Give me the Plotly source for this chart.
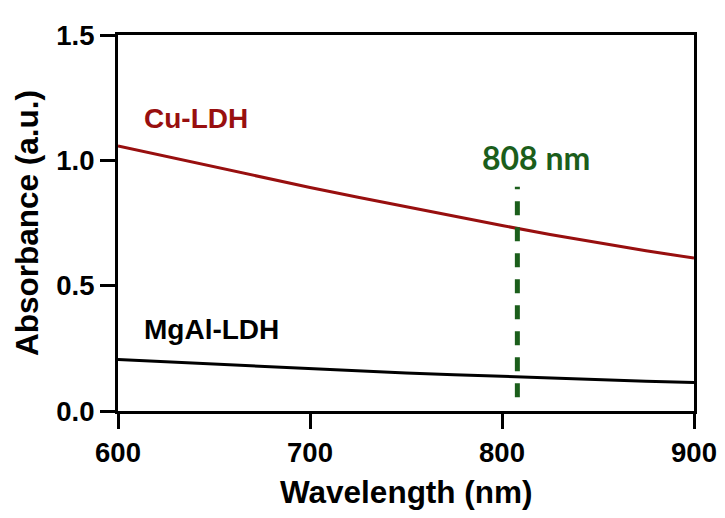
import plotly.graph_objects as go

# ---- data ----
wavelength = [600, 625, 650, 675, 700, 725, 750, 775, 800, 825, 850, 875, 900]
cu_ldh = [1.057, 1.015, 0.973, 0.932, 0.892, 0.853, 0.815, 0.777, 0.740, 0.704, 0.670, 0.639, 0.610]
mgal_ldh = [0.205, 0.196, 0.187, 0.178, 0.169, 0.160, 0.152, 0.145, 0.138, 0.131, 0.125, 0.119, 0.114]

laser_x = [808, 808]
laser_y = [0.055, 0.895]

x_ticks = [600, 700, 800, 900]
y_ticks = [0.0, 0.5, 1.0, 1.5]

RED = "#980f0f"
GREEN = "#1b5e1b"
FONT = "Liberation Sans, Arial, sans-serif"

fig = go.Figure()
fig.add_trace(go.Scatter(x=wavelength, y=cu_ldh, mode="lines",
                         line=dict(color=RED, width=3), showlegend=False))
fig.add_trace(go.Scatter(x=wavelength, y=mgal_ldh, mode="lines",
                         line=dict(color="#000000", width=3), showlegend=False))
fig.add_trace(go.Scatter(x=laser_x, y=laser_y, mode="lines",
                         line=dict(color=GREEN, width=5, dash="14px,12px"),
                         showlegend=False))

# page body has an 8px default margin, so the plot area is placed 8px up/left
fig.update_layout(
    width=725, height=518,
    margin=dict(l=110, r=39, t=21, b=115),
    paper_bgcolor="white", plot_bgcolor="white",
    font=dict(family=FONT, color="black"),
)

fig.update_xaxes(
    range=[600, 900], tickvals=x_ticks, ticktext=[str(v) for v in x_ticks],
    showgrid=False, zeroline=False, showline=True, linecolor="black", linewidth=3,
    mirror=True, ticks="outside", ticklen=15, tickwidth=3, tickcolor="black",
    tickfont=dict(size=27.5, family=FONT, weight="bold", color="black"),
)
fig.update_yaxes(
    range=[0, 1.5], tickvals=y_ticks, ticktext=[f"{v:.1f}" for v in y_ticks],
    showgrid=False, zeroline=False, showline=True, linecolor="black", linewidth=3,
    mirror=True, ticks="outside", ticklen=15, tickwidth=3, tickcolor="black",
    tickfont=dict(size=27.5, family=FONT, weight="bold", color="black"),
)

# axis titles
fig.add_annotation(text="Wavelength (nm)", xref="paper", yref="paper",
                   x=0.5, y=-0.215, xanchor="center", yanchor="middle",
                   showarrow=False,
                   font=dict(size=31.5, family=FONT, weight="bold", color="black"))
fig.add_annotation(text="Absorbance (a.u.)", xref="paper", yref="paper",
                   x=-0.158, y=0.5, xanchor="center", yanchor="middle",
                   textangle=-90, showarrow=False,
                   font=dict(size=31.5, family=FONT, weight="bold", color="black"))

# labels
fig.add_annotation(text="Cu-LDH", x=612.5, y=1.166, xanchor="left", yanchor="middle",
                   showarrow=False,
                   font=dict(size=28, family=FONT, weight="bold", color=RED))
fig.add_annotation(text="MgAl-LDH", x=612.5, y=0.326, xanchor="left", yanchor="middle",
                   showarrow=False,
                   font=dict(size=28, family=FONT, weight="bold", color="black"))
fig.add_annotation(text="808 nm", x=788.5, y=1.013, xanchor="left", yanchor="middle",
                   showarrow=False,
                   font=dict(size=32, family="Lato, Open Sans, sans-serif",
                             weight="bold", color=GREEN))

fig.write_html("out.html")
